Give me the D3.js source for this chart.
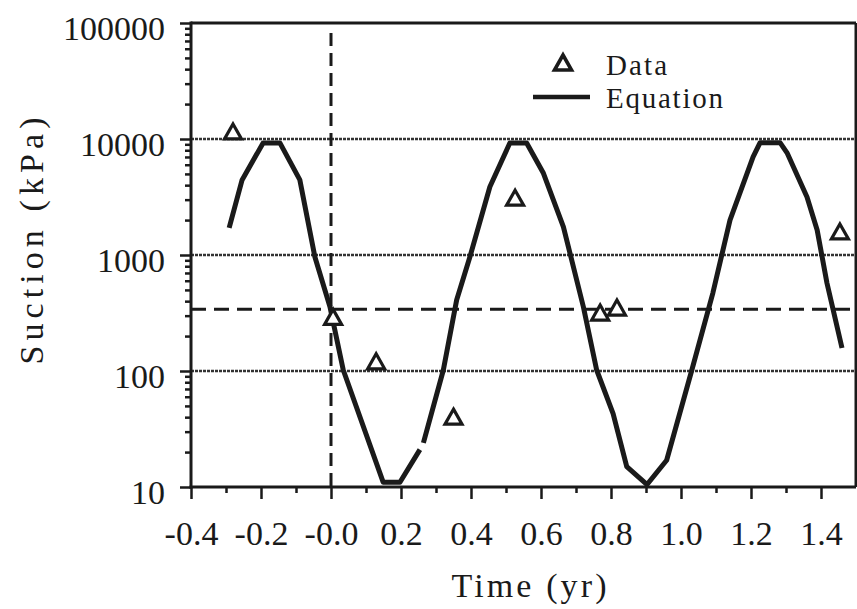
<!DOCTYPE html>
<html>
<head>
<meta charset="utf-8">
<script src="https://cdn.jsdelivr.net/npm/d3@7"></script>
<style>
  html, body { margin: 0; padding: 0; background: #fff; }
  svg { display: block; }
</style>
</head>
<body>
<svg id="chart" width="857" height="609" font-family="Liberation Serif, serif"></svg>
<script>
// ---- data ----
const xMajorTicks = [-0.4, -0.2, 0.0, 0.2, 0.4, 0.6, 0.8, 1.0, 1.2, 1.4];
const xTickLabels = ["-0.4", "-0.2", "-0.0", "0.2", "0.4", "0.6", "0.8", "1.0", "1.2", "1.4"];
const xMinorTicks = [-0.3, -0.1, 0.1, 0.3, 0.5, 0.7, 0.9, 1.1, 1.3];
const yMajorTicks = [10, 100, 1000, 10000, 100000];
const yTickLabels = ["10", "100", "1000", "10000", "100000"];
const gridValues = [100, 1000, 10000];
const referenceSuction = 340;      // dashed horizontal line
const referenceTime = 0.0;         // dashed vertical line
const referenceTimeTop = 82000;    // where the vertical dashed line starts

// Equation curve (null = small gap in the drawn line)
const eqTime = [-0.291, -0.254, -0.194, -0.146, -0.089, -0.046, -0.003, 0.035, 0.149, 0.197, 0.254,
                null,
                0.264, 0.321, 0.359, 0.397, 0.454, 0.511, 0.559, 0.607, 0.664, 0.721, 0.759, 0.806,
                0.845, 0.903, 0.959, 1.031, 1.091, 1.140, 1.206, 1.226, 1.283, 1.303, 1.360,
                1.389, 1.417, 1.460];
const eqSuction = [1710, 4440, 9250, 9250, 4440, 962, 358, 102, 11, 11, 21,
                   null,
                   24, 102, 409, 966, 3880, 9250, 9250, 5060, 1750, 358, 102, 43,
                   15, 10.5, 17, 102, 470, 2000, 7000, 9300, 9300, 7600, 3160,
                   1645, 574, 158];

// Measured data
const dataTime = [-0.28, 0.006, 0.129, 0.35, 0.526, 0.769, 0.817, 1.454];
const dataSuction = [11500, 290, 120, 40, 3090, 316, 349, 1580];

// ---- chart ----
const FONT = "Liberation Serif, serif";
const svg = d3.select("#chart");
const ink = "#1a1a1a";
const x = d3.scaleLinear().domain([-0.4, 1.5]).range([191, 856]);
const y = d3.scaleLog().domain([10, 100000]).range([487, 23]);

// gridlines (dotted)
svg.append("g").selectAll("line").data(gridValues).join("line")
  .attr("x1", x(-0.4)).attr("x2", x(1.5))
  .attr("y1", d => y(d)).attr("y2", d => y(d))
  .attr("stroke", "#333").attr("stroke-width", 2.4)
  .attr("stroke-dasharray", "3,1");

// dashed reference lines
svg.append("line")
  .attr("x1", x(-0.4)).attr("x2", x(1.5))
  .attr("y1", y(referenceSuction)).attr("y2", y(referenceSuction))
  .attr("stroke", ink).attr("stroke-width", 3).attr("stroke-dasharray", "15,8");
svg.append("line")
  .attr("x1", x(referenceTime)).attr("x2", x(referenceTime))
  .attr("y1", y(referenceTimeTop)).attr("y2", y(10))
  .attr("stroke", ink).attr("stroke-width", 3).attr("stroke-dasharray", "13,7");

// frame (top & right)
svg.append("line").attr("x1", x(-0.4)).attr("x2", x(1.5)).attr("y1", y(100000)).attr("y2", y(100000))
  .attr("stroke", ink).attr("stroke-width", 3);
svg.append("line").attr("x1", x(1.5)).attr("x2", x(1.5)).attr("y1", y(100000)).attr("y2", y(10))
  .attr("stroke", ink).attr("stroke-width", 3);

// y axis
const yMinor = [];
for (let dec = 10; dec < 100000; dec *= 10) for (let k = 2; k <= 9; k++) yMinor.push(dec * k);
const yAxisMinor = svg.append("g").attr("transform", `translate(${x(-0.4)},0)`)
  .call(d3.axisLeft(y).tickValues(yMinor).tickSize(6).tickFormat(""));
const yAxis = svg.append("g").attr("transform", `translate(${x(-0.4)},0)`)
  .call(d3.axisLeft(y).tickValues(yMajorTicks).tickSize(11).tickPadding(15)
        .tickFormat((d, i) => yTickLabels[i]));
[yAxisMinor, yAxis].forEach(g => {
  g.attr("font-family", FONT);
  g.selectAll(".tick line").attr("stroke", ink).attr("stroke-width", 2.5);
});
yAxisMinor.select(".domain").remove();
yAxis.select(".domain").attr("d", `M0,${y(10) + 1.5}V${y(100000) - 1.5}`)
  .attr("stroke", ink).attr("stroke-width", 3);
yAxis.selectAll(".tick text").attr("dy", 16).attr("font-size", 34)
  .attr("font-family", FONT).attr("fill", ink);

// x axis
const xAxisMinor = svg.append("g").attr("transform", `translate(0,${y(10)})`)
  .call(d3.axisBottom(x).tickValues(xMinorTicks).tickSize(6).tickFormat(""));
const xAxis = svg.append("g").attr("transform", `translate(0,${y(10)})`)
  .call(d3.axisBottom(x).tickValues(xMajorTicks).tickSize(12).tickPadding(46)
        .tickFormat((d, i) => xTickLabels[i]));
xAxisMinor.select(".domain").remove();
xAxis.attr("font-family", FONT);
xAxis.select(".domain").attr("d", `M${x(-0.4) - 1.5},0H${x(1.5)}`).attr("stroke", ink).attr("stroke-width", 3);
[xAxisMinor, xAxis].forEach(g => g.selectAll(".tick line").attr("stroke", ink).attr("stroke-width", 2.5));
xAxis.selectAll(".tick text").attr("dy", 0).attr("font-size", 34)
  .attr("font-family", FONT).attr("fill", ink);

// axis titles
svg.append("text").attr("x", 529).attr("y", 597).attr("text-anchor", "middle")
  .attr("font-family", FONT).attr("fill", ink)
  .attr("font-size", 34).attr("textLength", 155).attr("lengthAdjust", "spacing")
  .text("Time (yr)");
svg.append("text").attr("transform", "translate(43,241) rotate(-90)").attr("text-anchor", "middle")
  .attr("font-family", FONT).attr("fill", ink)
  .attr("font-size", 34).attr("textLength", 247).attr("lengthAdjust", "spacing")
  .text("Suction (kPa)");

// equation curve
const eqPoints = eqTime.map((t, i) => (t === null ? null : [t, eqSuction[i]]));
const line = d3.line().defined(d => d !== null).x(d => x(d[0])).y(d => y(d[1]));
svg.append("path").datum(eqPoints).attr("d", line)
  .attr("fill", "none").attr("stroke", ink).attr("stroke-width", 5)
  .attr("stroke-linejoin", "round").attr("stroke-linecap", "butt");

// data triangles
const tri = "M0,-8L8.5,7L-8.5,7Z";
svg.append("g").selectAll("path").data(dataTime.map((t, i) => [t, dataSuction[i]])).join("path")
  .attr("d", tri)
  .attr("transform", d => `translate(${x(d[0])},${y(d[1])})`)
  .attr("fill", "#fff").attr("stroke", ink).attr("stroke-width", 3.2).attr("stroke-linejoin", "miter");

// legend
const leg = svg.append("g");
leg.append("path").attr("d", tri).attr("transform", "translate(563,63)")
  .attr("fill", "#fff").attr("stroke", ink).attr("stroke-width", 3.6);
leg.append("text").attr("x", 606).attr("y", 75).attr("font-size", 29)
  .attr("font-family", FONT).attr("fill", ink)
  .attr("textLength", 61).attr("lengthAdjust", "spacing").text("Data");
leg.append("line").attr("x1", 533).attr("x2", 590).attr("y1", 97).attr("y2", 97)
  .attr("stroke", ink).attr("stroke-width", 4.5);
leg.append("text").attr("x", 606).attr("y", 108).attr("font-size", 29)
  .attr("font-family", FONT).attr("fill", ink)
  .attr("textLength", 117).attr("lengthAdjust", "spacing").text("Equation");
</script>
</body>
</html>
